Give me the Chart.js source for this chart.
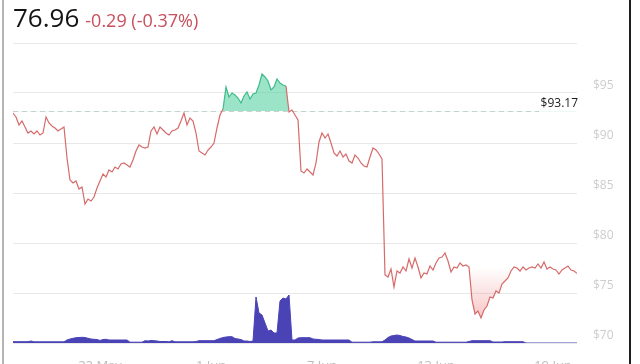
<!DOCTYPE html>
<html><head><meta charset="utf-8">
<script src="https://cdn.jsdelivr.net/npm/chart.js@4"></script>
<style>
html,body{margin:0;padding:0;background:#fff;overflow:hidden;width:640px;height:364px;}
#wrap{position:relative;width:640px;height:364px;overflow:hidden;}
#box{position:absolute;left:0;top:0;width:640px;height:386px;}
#lb{position:absolute;left:2px;top:0;width:2px;height:364px;background:#b5b5b5;}
#rb{position:absolute;left:629px;top:0;width:2px;height:364px;background:#1e1e1e;}
</style></head>
<body>
<div id="wrap"><div id="box"><canvas id="c"></canvas></div><div id="lb"></div><div id="rb"></div></div>
<script>
const lastPrice = 76.96;
const change = -0.29;
const changePct = -0.37;
const previousClose = 93.17;

const tickLabels = ["22 May", "1 Jun", "7 Jun", "13 Jun", "19 Jun"];
const tickIndex = [29, 66, 103, 141, 180];

const price = [
 93.0,92.6,91.8,92.2,91.6,91.0,91.2,90.9,91.2,90.8,
 91.0,92.6,92.0,91.7,91.5,91.2,91.4,91.6,88.5,86.3,
 86.0,86.2,85.4,85.6,83.9,84.4,84.2,84.6,85.5,86.2,
 86.9,86.6,87.3,87.1,87.6,87.4,87.9,88.0,87.8,87.6,
 88.3,89.2,89.8,89.6,89.5,89.6,91.2,91.6,90.9,91.6,
 91.3,91.0,90.8,91.2,91.3,91.5,92.2,93.0,91.8,92.5,
 92.2,91.0,89.2,89.0,88.8,89.3,89.6,90.0,91.5,92.8,
 93.4,95.6,94.6,95.0,94.8,94.5,94.0,94.7,95.1,94.4,
 94.9,95.0,95.8,96.9,96.6,96.2,95.3,95.6,96.4,96.0,
 95.8,95.7,93.1,93.3,92.8,92.3,87.2,87.0,87.4,87.1,
 86.8,88.0,90.1,91.0,90.5,90.9,90.0,89.0,88.7,89.2,
 88.6,88.9,88.2,88.0,88.8,88.5,88.0,87.7,87.6,88.6,
 89.5,89.3,88.9,88.4,76.8,76.6,77.4,75.6,77.2,77.0,
 77.6,77.2,78.4,77.5,78.5,77.6,76.5,77.0,76.9,77.7,
 77.3,78.0,78.5,78.6,79.0,78.2,77.1,77.6,77.5,78.0,
 77.7,77.8,77.6,74.3,72.9,73.2,72.5,73.3,73.7,74.6,
 74.5,75.2,75.0,75.9,76.2,76.5,77.2,77.6,77.5,77.2,
 77.6,77.3,77.5,77.6,77.5,77.9,77.5,78.1,77.4,77.6,
 77.4,77.3,76.9,77.3,77.5,77.7,77.3,77.2,76.96
];

const volume = [
 1.3,1.3,1.3,1.3,1.3,1.3,2.0,1.2,1.2,1.2,
 1.2,1.2,1.2,1.2,1.2,1.2,1.2,1.2,3.0,4.0,
 4.7,5.3,5.5,5.7,5.5,4.7,4.0,3.7,3.5,2.5,
 3.5,3.7,3.0,3.0,3.0,3.0,3.0,3.0,3.0,0.8,
 0.8,0.8,0.8,0.8,2.3,2.0,2.5,2.3,2.0,1.5,
 1.5,1.5,1.2,2.3,1.2,1.2,1.2,1.2,1.2,1.2,
 1.2,1.5,2.3,2.3,2.3,2.3,2.3,2.3,3.5,4.5,
 5.5,6.0,6.3,6.3,4.5,4.0,3.5,2.0,2.0,1.5,
 2.0,46,30,28,20,12,13,10,10,42,
 45,44,48,3.0,3.0,5.0,5.3,5.3,5.3,5.3,
 4.0,3.7,3.5,3.0,3.0,3.0,3.0,3.0,3.0,3.0,
 3.0,3.0,3.0,0.8,0.8,0.8,0.8,0.8,0.8,0.8,
 1.2,1.2,1.2,1.2,3.0,5.5,7.0,7.5,8.0,7.5,
 6.5,6.0,5.0,3.5,2.0,2.0,2.0,2.0,2.0,2.0,
 2.0,0.8,0.8,0.8,0.8,0.8,0.8,0.8,0.8,0.8,
 0.8,0.8,1.5,2.3,2.3,2.3,2.3,2.3,2.3,2.3,
 1.0,1.0,1.0,1.0,1.3,1.3,1.3,1.3,1.3,1.3,
 1.3,0,0,0,0,0,0,0,0,0,
 0,0,0,0,0,0,0,0,0
];

const RED = '#d66a6a';
const GREEN = '#3dbb8c';
const FONT = "'Open Sans', sans-serif";

const refPlugin = {
  id: 'ref',
  beforeDatasetsDraw(chart) {
    const {ctx, chartArea: a, scales: {y}} = chart;
    const py = Math.round(y.getPixelForValue(previousClose)) + 0.5;
    ctx.save();
    ctx.strokeStyle = '#d2d2d2';
    ctx.lineWidth = 1;
    ctx.setLineDash([5, 4]);
    ctx.beginPath();
    ctx.moveTo(a.left, py);
    ctx.lineTo(a.right - 38, py);
    ctx.stroke();
    ctx.restore();
  },
  afterDatasetsDraw(chart) {
    const {ctx, chartArea: a, scales: {y}} = chart;
    const py = y.getPixelForValue(previousClose);
    ctx.save();
    ctx.font = '12px ' + FONT;
    ctx.fillStyle = '#1a1a1a';
    ctx.textAlign = 'right';
    ctx.textBaseline = 'alphabetic';
    ctx.fillText('$' + previousClose.toFixed(2), a.right + 1, py - 4);
    ctx.restore();
  },
  afterDraw(chart) {
    const ctx = chart.ctx;
    ctx.save();
    ctx.textBaseline = 'alphabetic';
    ctx.textAlign = 'left';
    ctx.font = '26px ' + FONT;
    ctx.fillStyle = '#141414';
    const t1 = lastPrice.toFixed(2);
    ctx.fillText(t1, 13, 27);
    const w = ctx.measureText(t1).width;
    ctx.font = '18px ' + FONT;
    ctx.fillStyle = '#c8505c';
    ctx.fillText(change.toFixed(2) + ' (' + changePct.toFixed(2) + '%)', 13 + w + 6, 27);
    ctx.restore();
  }
};

new Chart(document.getElementById('c'), {
  type: 'line',
  data: {
    datasets: [
      {
        label: 'Price',
        data: price.map((v, i) => ({x: i, y: v})),
        yAxisID: 'y',
        borderColor: RED,
        borderWidth: 1.2,
        pointRadius: 0,
        tension: 0,
        order: 0,
        segment: {
          borderColor: c => (c.p0.parsed.y >= previousClose && c.p1.parsed.y >= previousClose) ? GREEN : RED
        },
        fill: {target: {value: previousClose}, above: 'rgba(95,212,165,0.62)'},
        backgroundColor: c => {
          const ch = c.chart;
          if (!ch.chartArea) return 'rgba(0,0,0,0)';
          const y = ch.scales.y;
          const g = ch.ctx.createLinearGradient(0, y.getPixelForValue(77.6), 0, y.getPixelForValue(72.2));
          g.addColorStop(0, 'rgba(236,110,110,0)');
          g.addColorStop(1, 'rgba(236,110,110,0.42)');
          return g;
        }
      },
      {
        label: 'Volume',
        data: volume.map((v, i) => ({x: i, y: v})),
        yAxisID: 'yv',
        borderColor: '#4a43b6',
        backgroundColor: '#4a43b6',
        borderWidth: 1,
        pointRadius: 0,
        tension: 0,
        order: 1,
        fill: 'origin'
      }
    ]
  },
  options: {
    responsive: true,
    maintainAspectRatio: false,
    animation: false,
    layout: {padding: {left: 13, top: 43, right: 0, bottom: 0}},
    plugins: {legend: {display: false}, tooltip: {enabled: false}},
    scales: {
      x: {
        type: 'linear',
        min: 0,
        max: price.length - 1,
        grid: {display: false, drawTicks: false},
        border: {display: false},
        afterBuildTicks: s => { s.ticks = tickIndex.map(v => ({value: v})); },
        ticks: {
          autoSkip: false, maxRotation: 0, padding: 15, color: '#bdbdbd',
          font: {family: FONT, size: 13},
          callback: (v, i) => tickLabels[i]
        },
        afterFit: s => { s.height = 43; }
      },
      y: {
        position: 'right',
        min: 70,
        max: 100,
        grid: {color: '#e8e8e8', drawTicks: false},
        border: {display: false},
        ticks: {
          stepSize: 5, padding: 16, labelOffset: -7, color: '#cdcdcd',
          font: {family: FONT, size: 12},
          callback: v => v >= 100 ? '' : '$' + v
        },
        afterFit: s => { s.width = 63; }
      },
      yv: {display: false, min: 0, max: 300}
    }
  },
  plugins: [refPlugin]
});
</script>
</body></html>
